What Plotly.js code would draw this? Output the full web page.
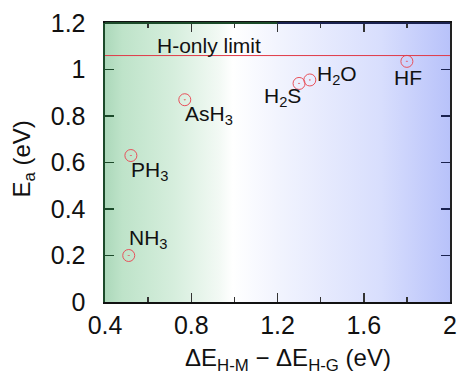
<!DOCTYPE html>
<html>
<head>
<meta charset="utf-8">
<script src="https://cdn.plot.ly/plotly-3.0.1.min.js"></script>
<style>html,body{margin:0;padding:0;background:#fff;}#chart{width:461px;height:372px;}</style>
</head>
<body>
<div id="chart"></div>
<script>
// Data
const molecules = ['NH<sub>3</sub>', 'PH<sub>3</sub>', 'AsH<sub>3</sub>', 'H<sub>2</sub>S', 'H<sub>2</sub>O', 'HF'];
const deltaE = [0.51, 0.52, 0.77, 1.30, 1.35, 1.80];
const Ea = [0.20, 0.63, 0.87, 0.94, 0.955, 1.035];
const hOnlyLimit = 1.06;
const hOnlyLabel = 'H-only limit';
const hOnlyLabelX = 0.88;
const xRange = [0.4, 2.0];
const yRange = [0, 1.2];
const xTicks = [0.4, 0.8, 1.2, 1.6, 2.0];
const xTickText = ['0.4', '0.8', '1.2', '1.6', '2'];
const yTicks = [0, 0.2, 0.4, 0.6, 0.8, 1.0, 1.2];
const yTickText = ['0', '0.2', '0.4', '0.6', '0.8', '1', '1.2'];
const xTitle = 'ΔE<sub>H-M</sub> − ΔE<sub>H-G</sub> (eV)';
const yTitle = 'E<sub>a</sub> (eV)';

// label placement per molecule
const labelAnchors = [
  {xa: 'left', ya: 'bottom', dx: -2, dy: 2},
  {xa: 'left', ya: 'top', dx: -2, dy: 0},
  {xa: 'left', ya: 'top', dx: -2, dy: 0},
  {xa: 'right', ya: 'top', dx: 4, dy: 1},
  {xa: 'left', ya: 'bottom', dx: 5, dy: -10},
  {xa: 'center', ya: 'top', dx: 1, dy: -3}
];

const font = 'Liberation Sans, Arial, Helvetica, sans-serif';

const bg = {
  x: [xRange[0], xRange[1], xRange[1], xRange[0], xRange[0]],
  y: [yRange[0], yRange[0], yRange[1], yRange[1], yRange[0]],
  mode: 'lines', line: {width: 0}, fill: 'toself',
  fillgradient: {type: 'horizontal', colorscale: [
    [0, 'rgb(172,216,186)'], [0.05, 'rgb(190,227,201)'], [0.2, 'rgb(214,238,221)'],
    [0.33, 'rgb(242,249,244)'], [0.37, 'rgb(255,255,255)'], [0.5, 'rgb(242,244,254)'],
    [0.8, 'rgb(216,222,253)'], [1, 'rgb(184,194,250)']]},
  hoverinfo: 'skip', showlegend: false
};

const pts = {
  x: deltaE, y: Ea, mode: 'markers', type: 'scatter',
  marker: {symbol: 'circle-open-dot', size: 12, color: '#e8505a', line: {width: 1}},
  showlegend: false
};

const annotations = molecules.map((m, i) => ({
  x: deltaE[i], y: Ea[i], text: m, showarrow: false,
  xanchor: labelAnchors[i].xa, yanchor: labelAnchors[i].ya,
  xshift: labelAnchors[i].dx, yshift: labelAnchors[i].dy,
  font: {family: font, size: 21, color: '#111'}
}));
annotations.push({x: hOnlyLabelX, y: hOnlyLimit, text: hOnlyLabel, showarrow: false,
  xanchor: 'center', yanchor: 'bottom', yshift: -3,
  font: {family: font, size: 21, color: '#111'}});
annotations.push({xref: 'paper', yref: 'paper', x: 0.5, y: 0, xshift: 10, yshift: -57,
  xanchor: 'center', yanchor: 'middle', text: xTitle, showarrow: false,
  font: {family: font, size: 24, color: '#111'}});
annotations.push({xref: 'paper', yref: 'paper', x: 0, y: 0.5, xshift: -82, yshift: 3,
  xanchor: 'center', yanchor: 'middle', textangle: -90, text: yTitle, showarrow: false,
  font: {family: font, size: 24, color: '#111'}});

const layout = {
  width: 461, height: 372,
  margin: {l: 105, r: 11, t: 23, b: 70},
  paper_bgcolor: '#fff', plot_bgcolor: '#fff',
  font: {family: font, color: '#111'},
  xaxis: {
    range: xRange, tickvals: xTicks, ticktext: xTickText,
    ticks: 'inside', ticklen: 9, tickwidth: 1.5, tickcolor: '#333',
    minor: {dtick: 0.2, tick0: 0.4, ticks: 'inside', ticklen: 5, tickwidth: 1.5, tickcolor: '#333'},
    showgrid: false, zeroline: false, showline: true, linecolor: '#111', linewidth: 2,
    mirror: 'ticks',
    tickfont: {size: 25, color: '#111'}
  },
  yaxis: {
    range: yRange, tickvals: yTicks, ticktext: yTickText.map(t => t + '\u2002'),
    ticks: 'inside', ticklen: 9, tickwidth: 1.5, tickcolor: '#1c4a2a',
    showgrid: false, zeroline: false, showline: true, linecolor: '#1c4a2a', linewidth: 2,
    tickfont: {size: 25, color: '#111'}
  },
  yaxis2: {
    range: yRange, tickvals: yTicks, overlaying: 'y', side: 'right',
    ticks: 'inside', ticklen: 9, tickwidth: 1.5, tickcolor: '#1a2250',
    showticklabels: false, showgrid: false, zeroline: false,
    showline: true, linecolor: '#222', linewidth: 2
  },
  shapes: [
    {type: 'line', xref: 'paper', x0: 0, x1: 1, yref: 'y', y0: hOnlyLimit, y1: hOnlyLimit,
     line: {color: '#e03a48', width: 1}},
    {type: 'line', xref: 'paper', x0: 0, x1: 0.5, yref: 'paper', y0: 1, y1: 1,
     line: {color: '#1c4a2a', width: 2}},
    {type: 'line', xref: 'paper', x0: 0.5, x1: 1, yref: 'paper', y0: 1, y1: 1,
     line: {color: '#1a2250', width: 2}}
  ],
  annotations: annotations
};

const dummyRight = {x: [xRange[0]], y: [yRange[0]], yaxis: 'y2', mode: 'markers',
  marker: {opacity: 0}, hoverinfo: 'skip', showlegend: false};

Plotly.newPlot('chart', [bg, pts, dummyRight], layout, {displayModeBar: false, staticPlot: true});
</script>
</body>
</html>
